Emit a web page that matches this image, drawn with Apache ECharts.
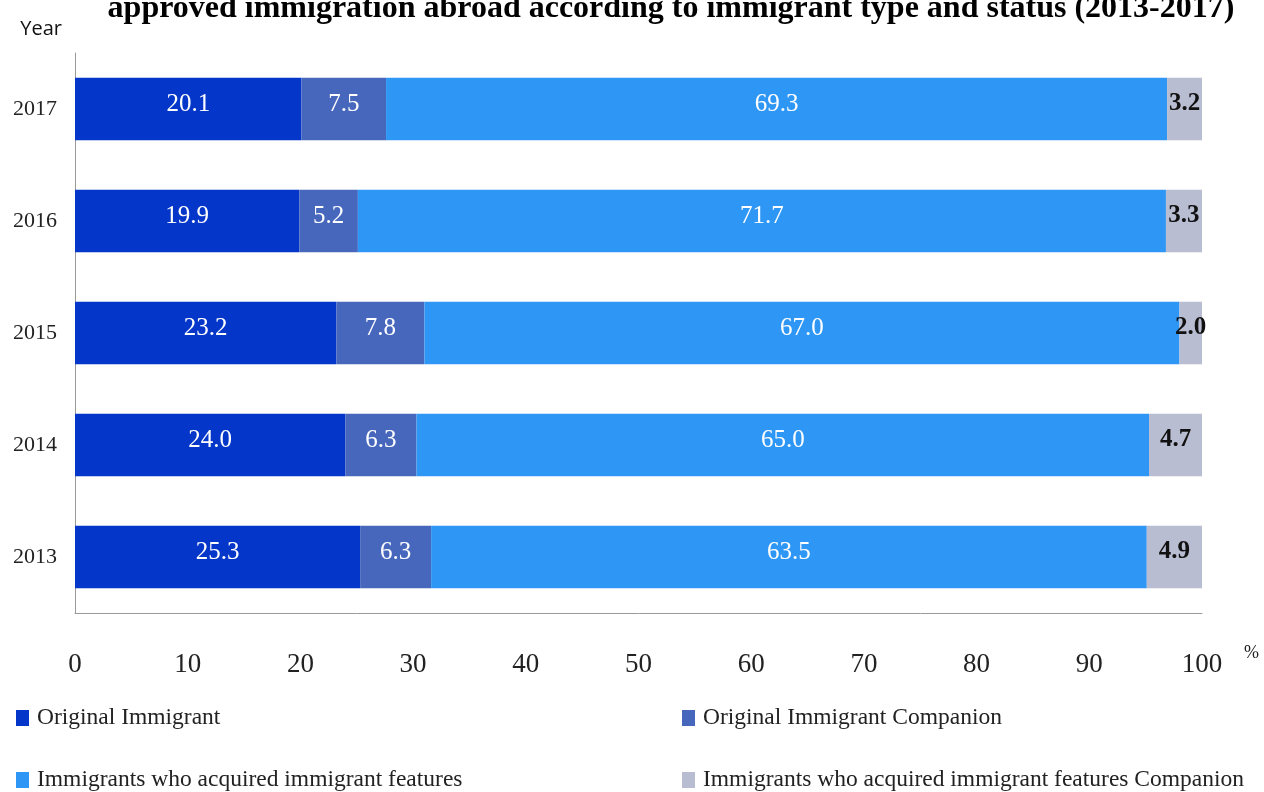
<!DOCTYPE html>
<html>
<head>
<meta charset="utf-8">
<script src="https://cdn.jsdelivr.net/npm/echarts@6/dist/echarts.min.js"></script>
<style>html,body{margin:0;padding:0;background:#fff;}#c{width:1264px;height:792px;}</style>
</head>
<body>
<div id="c"></div>
<script>
const years = ['2013', '2014', '2015', '2016', '2017'];
const originalImmigrant = [25.3, 24.0, 23.2, 19.9, 20.1];
const originalCompanion = [6.3, 6.3, 7.8, 5.2, 7.5];
const acquired = [63.5, 65.0, 67.0, 71.7, 69.3];
const acquiredCompanion = [4.9, 4.7, 2.0, 3.3, 3.2];
const xTicks = [0, 10, 20, 30, 40, 50, 60, 70, 80, 90, 100];
const seriesNames = ['Original Immigrant', 'Original Immigrant Companion', 'Immigrants who acquired immigrant features', 'Immigrants who acquired immigrant features Companion'];
const colors = ['#0336c9', '#4767bd', '#2e96f4', '#b9bdd2'];
const serif = 'Liberation Serif';

const chart = echarts.init(document.getElementById('c'));
const datasets = [originalImmigrant, originalCompanion, acquired, acquiredCompanion];
const series = datasets.map((d, i) => ({
  name: seriesNames[i],
  type: 'bar',
  stack: 'total',
  data: d,
  barWidth: '56%',
  itemStyle: { color: colors[i] },
  label: {
    show: true,
    position: 'inside',
    offset: [0, -5],
    formatter: p => p.value.toFixed(1),
    color: i === 3 ? '#111' : '#fff',
    fontFamily: serif,
    fontSize: 25,
    fontWeight: i === 3 ? 'bold' : 'normal'
  }
}));

const legendPos = [[11, 701], [677, 701], [11, 763], [677, 763]];
const legends = seriesNames.map((n, i) => ({
  data: [n],
  left: legendPos[i][0], top: legendPos[i][1],
  icon: 'rect', itemWidth: 13, itemHeight: 16, itemGap: 0,
  textStyle: { fontFamily: serif, fontSize: 23.5, color: '#222', padding: [0, 0, 0, 3] }
}));

chart.setOption({
  backgroundColor: '#fff',
  animation: false,
  color: colors,
  title: {
    text: 'approved immigration abroad according to immigrant type and status (2013-2017)',
    left: 666,
    textAlign: 'center',
    top: -12,
    textStyle: { fontFamily: serif, fontWeight: 'bold', fontSize: 32, color: '#000' }
  },
  grid: { left: 75, right: 62, top: 53, bottom: 179, containLabel: false },
  xAxis: {
    type: 'value',
    min: 0, max: 100, interval: 10,
    axisLine: { show: true, lineStyle: { color: '#999' } },
    axisTick: { show: false },
    splitLine: { show: false },
    axisLabel: {
      margin: 38,
      fontFamily: serif, fontSize: 27, color: '#222',
      formatter: v => xTicks.includes(v) ? String(v) : ''
    }
  },
  yAxis: {
    type: 'category',
    data: years,
    name: 'Year',
    nameLocation: 'end',
    nameGap: 14,
    nameTextStyle: { fontFamily: 'Open Sans', fontSize: 20, color: '#111', align: 'right', padding: [0, 13, 0, 0] },
    axisLine: { show: true, lineStyle: { color: '#999' } },
    axisTick: { show: false },
    axisLabel: { margin: 18, fontFamily: serif, fontSize: 22, color: '#222' }
  },
  legend: legends,
  graphic: [
    { type: 'text', left: 1244, top: 644, style: { text: '%', fontFamily: serif, fontSize: 18, fill: '#222' } }
  ],
  series: series
});
</script>
</body>
</html>
